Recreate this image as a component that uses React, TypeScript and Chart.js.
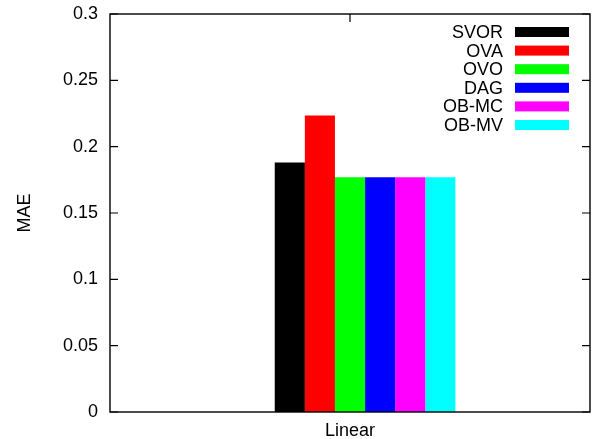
import React, { useEffect, useRef } from "react";
import { Chart, registerables } from "chart.js";

Chart.register(...registerables);

const categories = ["Linear"];
const seriesNames = ["SVOR", "OVA", "OVO", "DAG", "OB-MC", "OB-MV"];
const seriesValues = [[0.188], [0.2235], [0.177], [0.177], [0.177], [0.177]];
const seriesColors = ["#000000", "#ff0000", "#00ff00", "#0000ff", "#ff00ff", "#00ffff"];
const yTicks = [0, 0.05, 0.1, 0.15, 0.2, 0.25, 0.3];

const FONT = "'Liberation Sans', Arial, Helvetica, sans-serif";

const framePlugin = {
  id: "gnuFrame",
  beforeDatasetsDraw(chart: any) {
    const { ctx, chartArea, scales } = chart;
    const { left, right, top, bottom } = chartArea;
    ctx.save();
    ctx.strokeStyle = "#000";
    ctx.lineWidth = 1.2;
    ctx.beginPath();
    yTicks.forEach((v) => {
      const y = scales.y.getPixelForValue(v);
      ctx.moveTo(left, y);
      ctx.lineTo(left + 8, y);
      ctx.moveTo(right, y);
      ctx.lineTo(right - 8, y);
    });
    categories.forEach((_, i) => {
      const x = scales.x.getPixelForValue(i);
      ctx.moveTo(x, top);
      ctx.lineTo(x, top + 8);
      ctx.moveTo(x, bottom);
      ctx.lineTo(x, bottom - 8);
    });
    ctx.stroke();
    ctx.restore();
  },
  afterDatasetsDraw(chart: any) {
    const { ctx, chartArea } = chart;
    const { left, right, top, bottom } = chartArea;
    ctx.save();
    ctx.strokeStyle = "#000";
    ctx.lineWidth = 1.4;
    ctx.strokeRect(left, top, right - left, bottom - top);
    ctx.restore();
  },
  afterDraw(chart: any) {
    const { ctx } = chart;
    ctx.save();
    ctx.font = `18px ${FONT}`;
    ctx.textAlign = "right";
    ctx.textBaseline = "middle";
    ctx.fillStyle = "#000";
    seriesNames.forEach((name, i) => {
      const y = 32 + i * 18.6;
      ctx.fillText(name, 503, y + 1);
      ctx.fillStyle = seriesColors[i];
      ctx.fillRect(515, y - 5, 54, 10);
      ctx.fillStyle = "#000";
    });
    ctx.restore();
  },
};

export default function App() {
  const ref = useRef<HTMLCanvasElement>(null);
  useEffect(() => {
    document.body.style.margin = "0";
    const datasets: any[] = [
      { label: "", data: categories.map(() => null), backgroundColor: "rgba(0,0,0,0)" },
      ...seriesNames.map((name, i) => ({
        label: name,
        data: seriesValues[i],
        backgroundColor: seriesColors[i],
        borderWidth: 0,
      })),
    ];
    const chart = new Chart(ref.current!, {
      type: "bar",
      data: { labels: categories, datasets },
      plugins: [framePlugin],
      options: {
        animation: false,
        responsive: false,
        maintainAspectRatio: false,
        layout: { padding: { left: 0, right: 7, top: 14, bottom: 0 } },
        datasets: { bar: { barPercentage: 1, categoryPercentage: 0.439 } },
        plugins: { legend: { display: false }, tooltip: { enabled: false } },
        scales: {
          x: {
            grid: { display: false, drawTicks: false },
            border: { display: false },
            ticks: { color: "#000", font: { family: FONT, size: 18 }, padding: 8 },
            afterFit: (s: any) => { s.height = 27; s.paddingLeft = 0; s.paddingRight = 0; },
          },
          y: {
            min: 0,
            max: 0.3,
            grid: { display: false, drawTicks: false },
            border: { display: false },
            afterBuildTicks: (s: any) => { s.ticks = yTicks.map((v) => ({ value: v })); },
            ticks: {
              color: "#000",
              font: { family: FONT, size: 18 },
              padding: 12,
              callback: (v: any) => String(Number(v)),
            },
            title: {
              display: true,
              text: "MAE",
              color: "#000",
              font: { family: FONT, size: 18 },
              padding: { top: 14, bottom: 0 },
            },
            afterFit: (s: any) => { s.width = 110; s.paddingTop = 0; s.paddingBottom = 0; },
          },
        },
      },
    });
    return () => chart.destroy();
  }, []);
  return (
    <div style={{ width: 597, height: 439 }}>
      <canvas ref={ref} width={597} height={439} style={{ display: "block" }} />
    </div>
  );
}
